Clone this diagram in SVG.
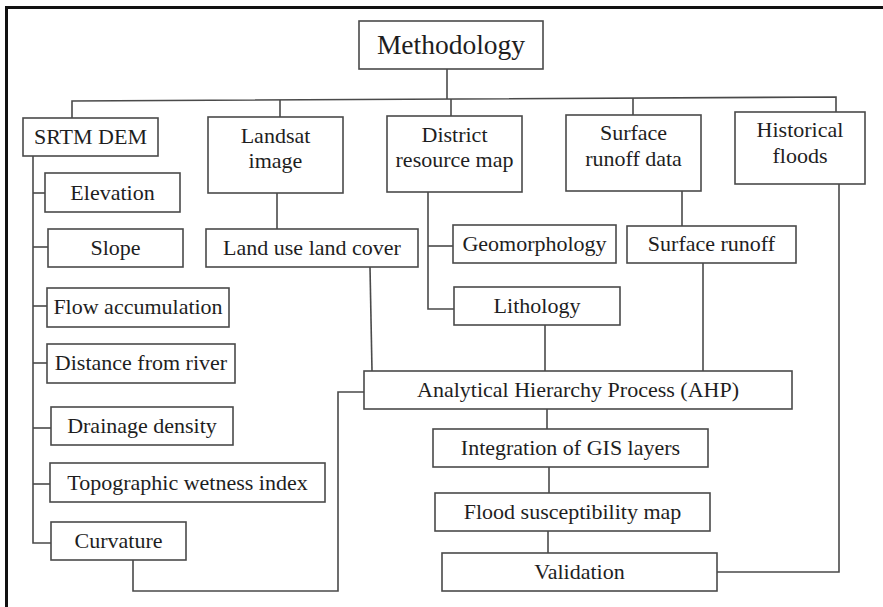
<svg xmlns="http://www.w3.org/2000/svg" width="883" height="607" viewBox="0 0 883 607">
<style>
.box{fill:#fff;stroke:#4a4a4a;stroke-width:1.6}
.ln{fill:none;stroke:#4a4a4a;stroke-width:1.6}
text{font-family:"Liberation Serif","Times New Roman",serif;font-size:22px;fill:#1e1e1e;text-anchor:middle}
</style>
<rect width="883" height="607" fill="#fff"/>
<path d="M6.5 607 V7.5 H883" fill="none" stroke="#111" stroke-width="3"/>
<g id="connectors" class="ln">
<path d="M447 69 V99"/>
<path d="M72 118 V101 L836 97 V112"/>
<path d="M280 100 V117"/>
<path d="M451 99 V116"/>
<path d="M633 98 V115"/>
<path d="M33 156 V543 H51"/>
<path d="M33 193 H45"/>
<path d="M33 247 H48"/>
<path d="M33 306 H47"/>
<path d="M33 363 H47"/>
<path d="M33 428 H51"/>
<path d="M33 484 H50"/>
<path d="M133 560 V591 H338 V392 H364"/>
<path d="M277 193 V229"/>
<path d="M370 267 L372 371"/>
<path d="M428 192 V309 H454"/>
<path d="M428 246 H453"/>
<path d="M545 325 V371"/>
<path d="M682 191 V226"/>
<path d="M703 263 V371"/>
<path d="M839 184 V572 H717"/>
<path d="M547 409 V429"/>
<path d="M549 467 V493"/>
<path d="M548 531 V553"/>
</g>
<g id="methodology"><rect class="box" x="359" y="21" width="184" height="48"/><text x="451" y="54" style="font-size:27.5px">Methodology</text></g>
<g id="srtm"><rect class="box" x="23" y="118" width="135" height="38"/><text x="90.5" y="144">SRTM DEM</text></g>
<g id="landsat"><rect class="box" x="208" y="117" width="135" height="76"/><text x="275.5" y="143">Landsat</text><text x="275.5" y="168">image</text></g>
<g id="district"><rect class="box" x="387" y="116" width="135" height="76"/><text x="454.5" y="142">District</text><text x="454.5" y="167">resource map</text></g>
<g id="surfacedata"><rect class="box" x="566" y="115" width="135" height="76"/><text x="633.5" y="140">Surface</text><text x="633.5" y="166">runoff data</text></g>
<g id="historical"><rect class="box" x="735" y="112" width="130" height="72"/><text x="800" y="137">Historical</text><text x="800" y="163">floods</text></g>
<g id="elevation"><rect class="box" x="45" y="173" width="135" height="39"/><text x="112.5" y="200">Elevation</text></g>
<g id="slope"><rect class="box" x="48" y="229" width="135" height="38"/><text x="115.5" y="255">Slope</text></g>
<g id="flowacc"><rect class="box" x="47" y="288" width="182" height="39"/><text x="138" y="314">Flow accumulation</text></g>
<g id="distriver"><rect class="box" x="47" y="344" width="188" height="39"/><text x="141" y="370">Distance from river</text></g>
<g id="drainage"><rect class="box" x="51" y="407" width="182" height="38"/><text x="142" y="433">Drainage density</text></g>
<g id="twi"><rect class="box" x="50" y="463" width="275" height="39"/><text x="187.5" y="490">Topographic wetness index</text></g>
<g id="curvature"><rect class="box" x="51" y="522" width="135" height="38"/><text x="118.5" y="548">Curvature</text></g>
<g id="lulc"><rect class="box" x="206" y="229" width="212" height="38"/><text x="312" y="255">Land use land cover</text></g>
<g id="geomorphology"><rect class="box" x="453" y="225" width="163" height="38"/><text x="534.5" y="251">Geomorphology</text></g>
<g id="lithology"><rect class="box" x="454" y="287" width="166" height="38"/><text x="537" y="313">Lithology</text></g>
<g id="surfacerunoff"><rect class="box" x="627" y="226" width="169" height="37"/><text x="711.5" y="251">Surface runoff</text></g>
<g id="ahp"><rect class="box" x="364" y="371" width="428" height="38"/><text x="578" y="397">Analytical Hierarchy Process (AHP)</text></g>
<g id="integration"><rect class="box" x="433" y="429" width="275" height="38"/><text x="570.5" y="455">Integration of GIS layers</text></g>
<g id="floodmap"><rect class="box" x="435" y="493" width="275" height="38"/><text x="572.5" y="519">Flood susceptibility map</text></g>
<g id="validation"><rect class="box" x="442" y="553" width="275" height="38"/><text x="579.5" y="579">Validation</text></g>
</svg>
